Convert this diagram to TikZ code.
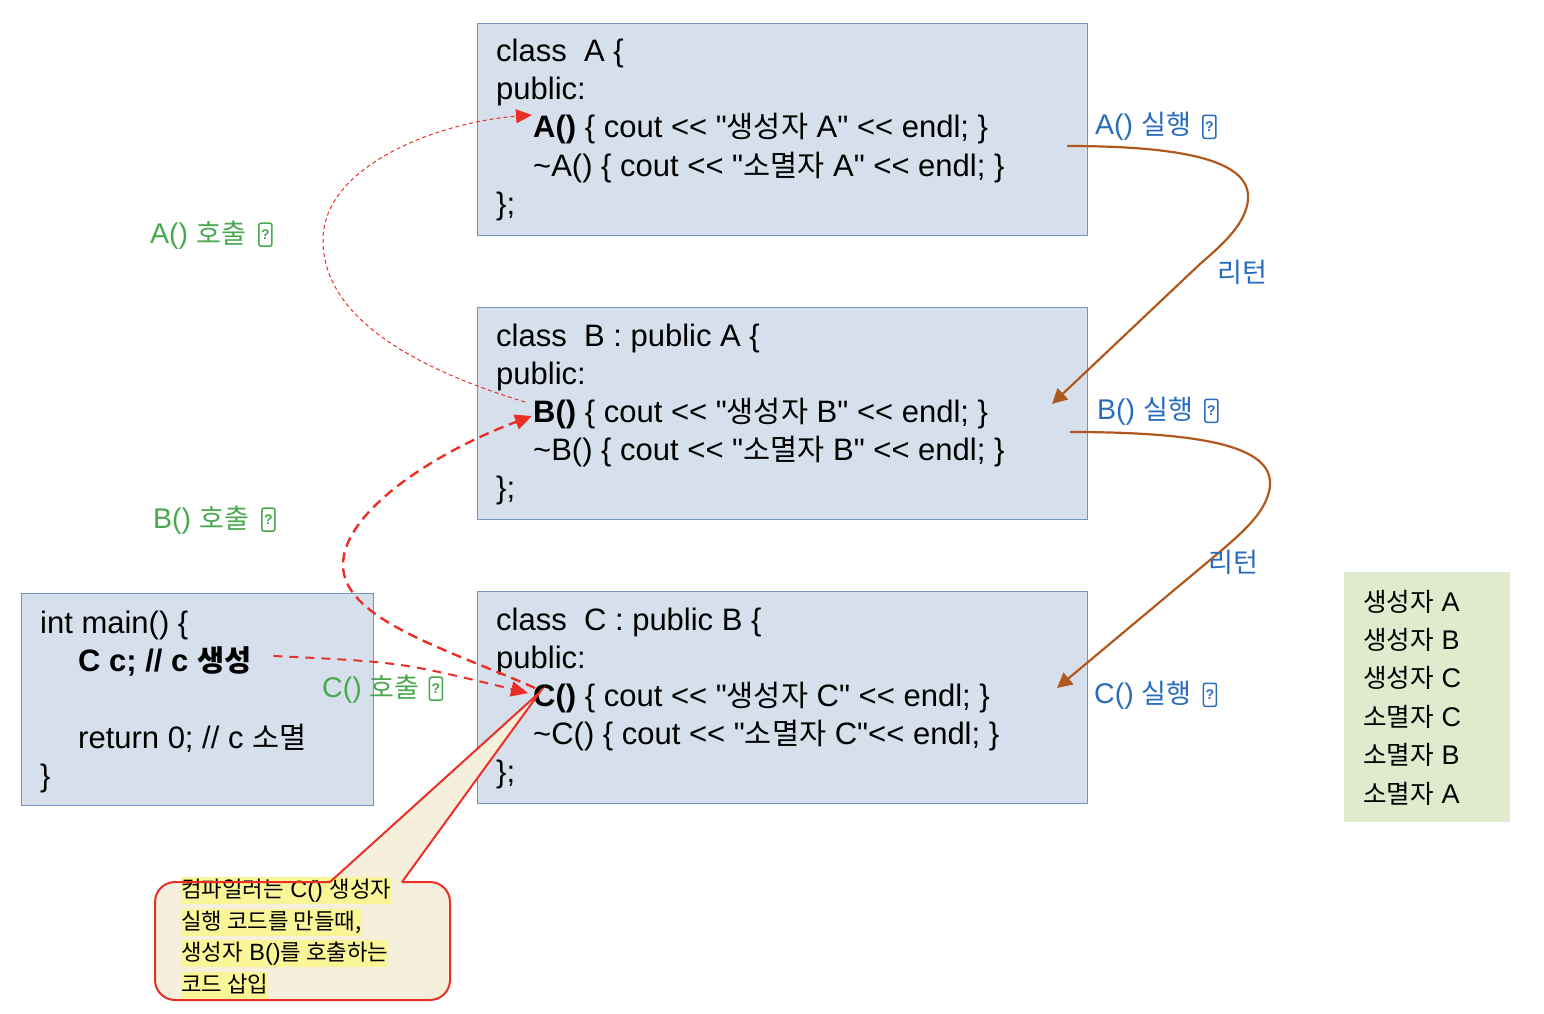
\documentclass[tikz,border=0pt]{standalone}
\usepackage{fontspec}
\setmonofont{Liberation Sans}
\renewcommand{\familydefault}{\ttdefault}
\newfontfamily\krfont{Noto Sans CJK KR}[Scale=0.95]
\usetikzlibrary{arrows.meta,positioning}

\definecolor{boxfill}{RGB}{214,224,236}
\definecolor{boxline}{RGB}{118,146,196}
\definecolor{listfill}{RGB}{224,235,205}
\definecolor{execblue}{RGB}{40,108,190}
\definecolor{callgreen}{RGB}{72,168,78}
\definecolor{callred}{RGB}{234,48,38}
\definecolor{retbrown}{RGB}{176,88,30}
\definecolor{notefill}{RGB}{246,239,220}
\definecolor{marker}{RGB}{250,245,150}

\newcommand{\ko}[1]{{\krfont #1}}

\tikzset{
  classbox/.style={draw=boxline, fill=boxfill, line width=0.8pt},
  code/.style={anchor=base west, inner sep=0pt, font=\fontsize{31}{36}\selectfont},
  listtxt/.style={anchor=base west, inner sep=0pt, font=\fontsize{27}{34}\selectfont},
  execlbl/.style={anchor=base west, inner sep=0pt, text=execblue, font=\fontsize{28.5}{30}\selectfont},
  calllbl/.style={anchor=base west, inner sep=0pt, text=callgreen, font=\fontsize{28.5}{30}\selectfont},
  tofu/.style={draw, rounded corners=2pt, line width=1.5pt, inner sep=0pt,
    minimum width=13pt, minimum height=23pt, font=\fontsize{14}{14}\selectfont\bfseries},
  calldash/.style={callred, dash pattern=on 10pt off 6pt, line width=2.4pt,
    -{Triangle[length=17pt,width=15pt]}},
  ret/.style={retbrown, line width=2.2pt, -{Triangle[length=15pt,width=15pt]}},
  noteline/.style={callred, line width=2pt},
  notetext/.style={anchor=base west, fill=marker, inner xsep=0pt, inner ysep=0pt,
    text height=20pt, text depth=7pt, font=\fontsize{23.5}{30}\selectfont},
}

\begin{document}
\begin{tikzpicture}[x=1pt,y=-1pt]
\useasboundingbox (0,0) rectangle (1544,1014);

% boxes
\draw[classbox] (477,23) rectangle (1087,235);
\draw[classbox] (477,307) rectangle (1087,519);
\draw[classbox] (477,591) rectangle (1087,803);
\draw[classbox] (21,593) rectangle (373,805);
\fill[listfill] (1344,572) rectangle (1510,822);

% class A
\node[code] (clsA) at (496,62) {class\ \ A \{};
\node[code] (pubA) at (496,100) {public:};
\node[code] (ctorA) at (533,138) {\textbf{A()} \{ cout << "\ko{생성자} A" << endl; \}};
\node[code] (dtorA) at (533,176) {\textasciitilde A() \{ cout << "\ko{소멸자} A" << endl; \}};
\node[code] (endA) at (496,214) {\};};

% class B
\node[code] (clsB) at (496,346) {class\ \ B : public A \{};
\node[code] (pubB) at (496,384) {public:};
\node[code] (ctorB) at (533,422) {\textbf{B()} \{ cout << "\ko{생성자} B" << endl; \}};
\node[code] (dtorB) at (533,460) {\textasciitilde B() \{ cout << "\ko{소멸자} B" << endl; \}};
\node[code] (endB) at (496,498) {\};};

% class C
\node[code] (clsC) at (496,630) {class\ \ C : public B \{};
\node[code] (pubC) at (496,668) {public:};
\node[code] (ctorC) at (533,706) {\textbf{C()} \{ cout << "\ko{생성자} C" << endl; \}};
\node[code] (dtorC) at (533,744) {\textasciitilde C() \{ cout << "\ko{소멸자} C"<< endl; \}};
\node[code] (endC) at (496,782) {\};};

% main
\node[code] (mainhead) at (40,633) {int main() \{};
\node[code] (mainC) at (78,671) {\textbf{C c; // c \ko{생성}}};
\node[code] (mainret) at (78,748) {return 0; // c \ko{소멸}};
\node[code] (mainend) at (40,786) {\}};

% output order
\foreach \who/\cls [count=\i from 0] in {생성자/A, 생성자/B, 생성자/C, 소멸자/C, 소멸자/B, 소멸자/A}
  \node[listtxt] (order\i) at (1363,{611+38.4*\i}) {\ko{\who} \cls};

% callout
\coordinate (tipC) at ([shift={(7,-5)}]ctorC.west);
\node[fill=notefill, rounded corners=20pt, minimum width=295pt, minimum height=118pt,
  inner sep=0pt] (note) at (302.5,941) {};
\fill[notefill] (330,882) -- (tipC) -- (402,882) -- cycle;
\node[notetext] (note1) at (181,897) {\ko{컴파일러는} C() \ko{생성자}};
\node[notetext] (note2) at (181,929) {\ko{실행 코드를 만들때,}};
\node[notetext] (note3) at (181,960) {\ko{생성자} B()\ko{를 호출하는}};
\node[notetext] (note4) at (181,992) {\ko{코드 삽입}};
\draw[noteline, rounded corners=20pt] (402,882) -- (450,882) -- (450,1000)
  -- (155,1000) -- (155,882) -- (330,882);
\draw[noteline] (330,882) -- (tipC) -- (402,882);

% calls
\draw[callred, line width=1pt, dash pattern=on 4pt off 3pt, -{Triangle[length=16pt,width=14pt]}]
  ([shift={(-8,-11)}]ctorB.west) .. controls (420,370) and (323,320) .. (323,240)
  .. controls (323,165) and (440,122) .. ([shift={(-1,-14)}]ctorA.west);
\draw[calldash] ([shift={(2,-9)}]ctorC.west) .. controls (450,650) and (343,620) .. (343,565)
  .. controls (343,510) and (440,450) .. ([shift={(-1,3)}]ctorB.west);
\draw[calldash, line width=2pt, dash pattern=on 9pt off 7pt]
  ([shift={(22,-5)}]mainC.east) .. controls (400,662) .. ([shift={(-5,-4)}]ctorC.west);

% returns
\coordinate (retA) at (1067,146);
\coordinate (intoB) at (1052,404);
\draw[ret] (retA) .. controls (1210,146) and (1262,168) .. (1245,212)
  .. controls (1238,230) and (1222,245) .. (1200,264) -- (intoB);
\coordinate (retB) at (1070,432);
\coordinate (intoC) at (1057,688);
\draw[ret] (retB) .. controls (1232,432) and (1284,454) .. (1267,498)
  .. controls (1260,516) and (1244,531) .. (1222,550) -- (intoC);

% labels
\node[execlbl] (execA) at (1095,135) {A() \ko{실행}};
\node[tofu, execblue, right=11pt of execA] (qexecA) {?};
\node[execlbl] (execB) at (1097,419) {B() \ko{실행}};
\node[tofu, execblue, right=11pt of execB] (qexecB) {?};
\node[execlbl] (execC) at (1094,703) {C() \ko{실행}};
\node[tofu, execblue, right=11pt of execC] (qexecC) {?};
\node[execlbl] (retlblA) at (1217,282) {\ko{리턴}};
\node[execlbl] (retlblB) at (1208,572) {\ko{리턴}};

\node[calllbl] (callA) at (150,243) {A() \ko{호출}};
\node[tofu, callgreen, right=12pt of callA] (qcallA) {?};
\node[calllbl] (callB) at (153,528) {B() \ko{호출}};
\node[tofu, callgreen, right=12pt of callB] (qcallB) {?};
\node[calllbl] (callC) at (322,697) {C() \ko{호출}};
\node[tofu, callgreen, right=9pt of callC] (qcallC) {?};

\end{tikzpicture}
\end{document}
